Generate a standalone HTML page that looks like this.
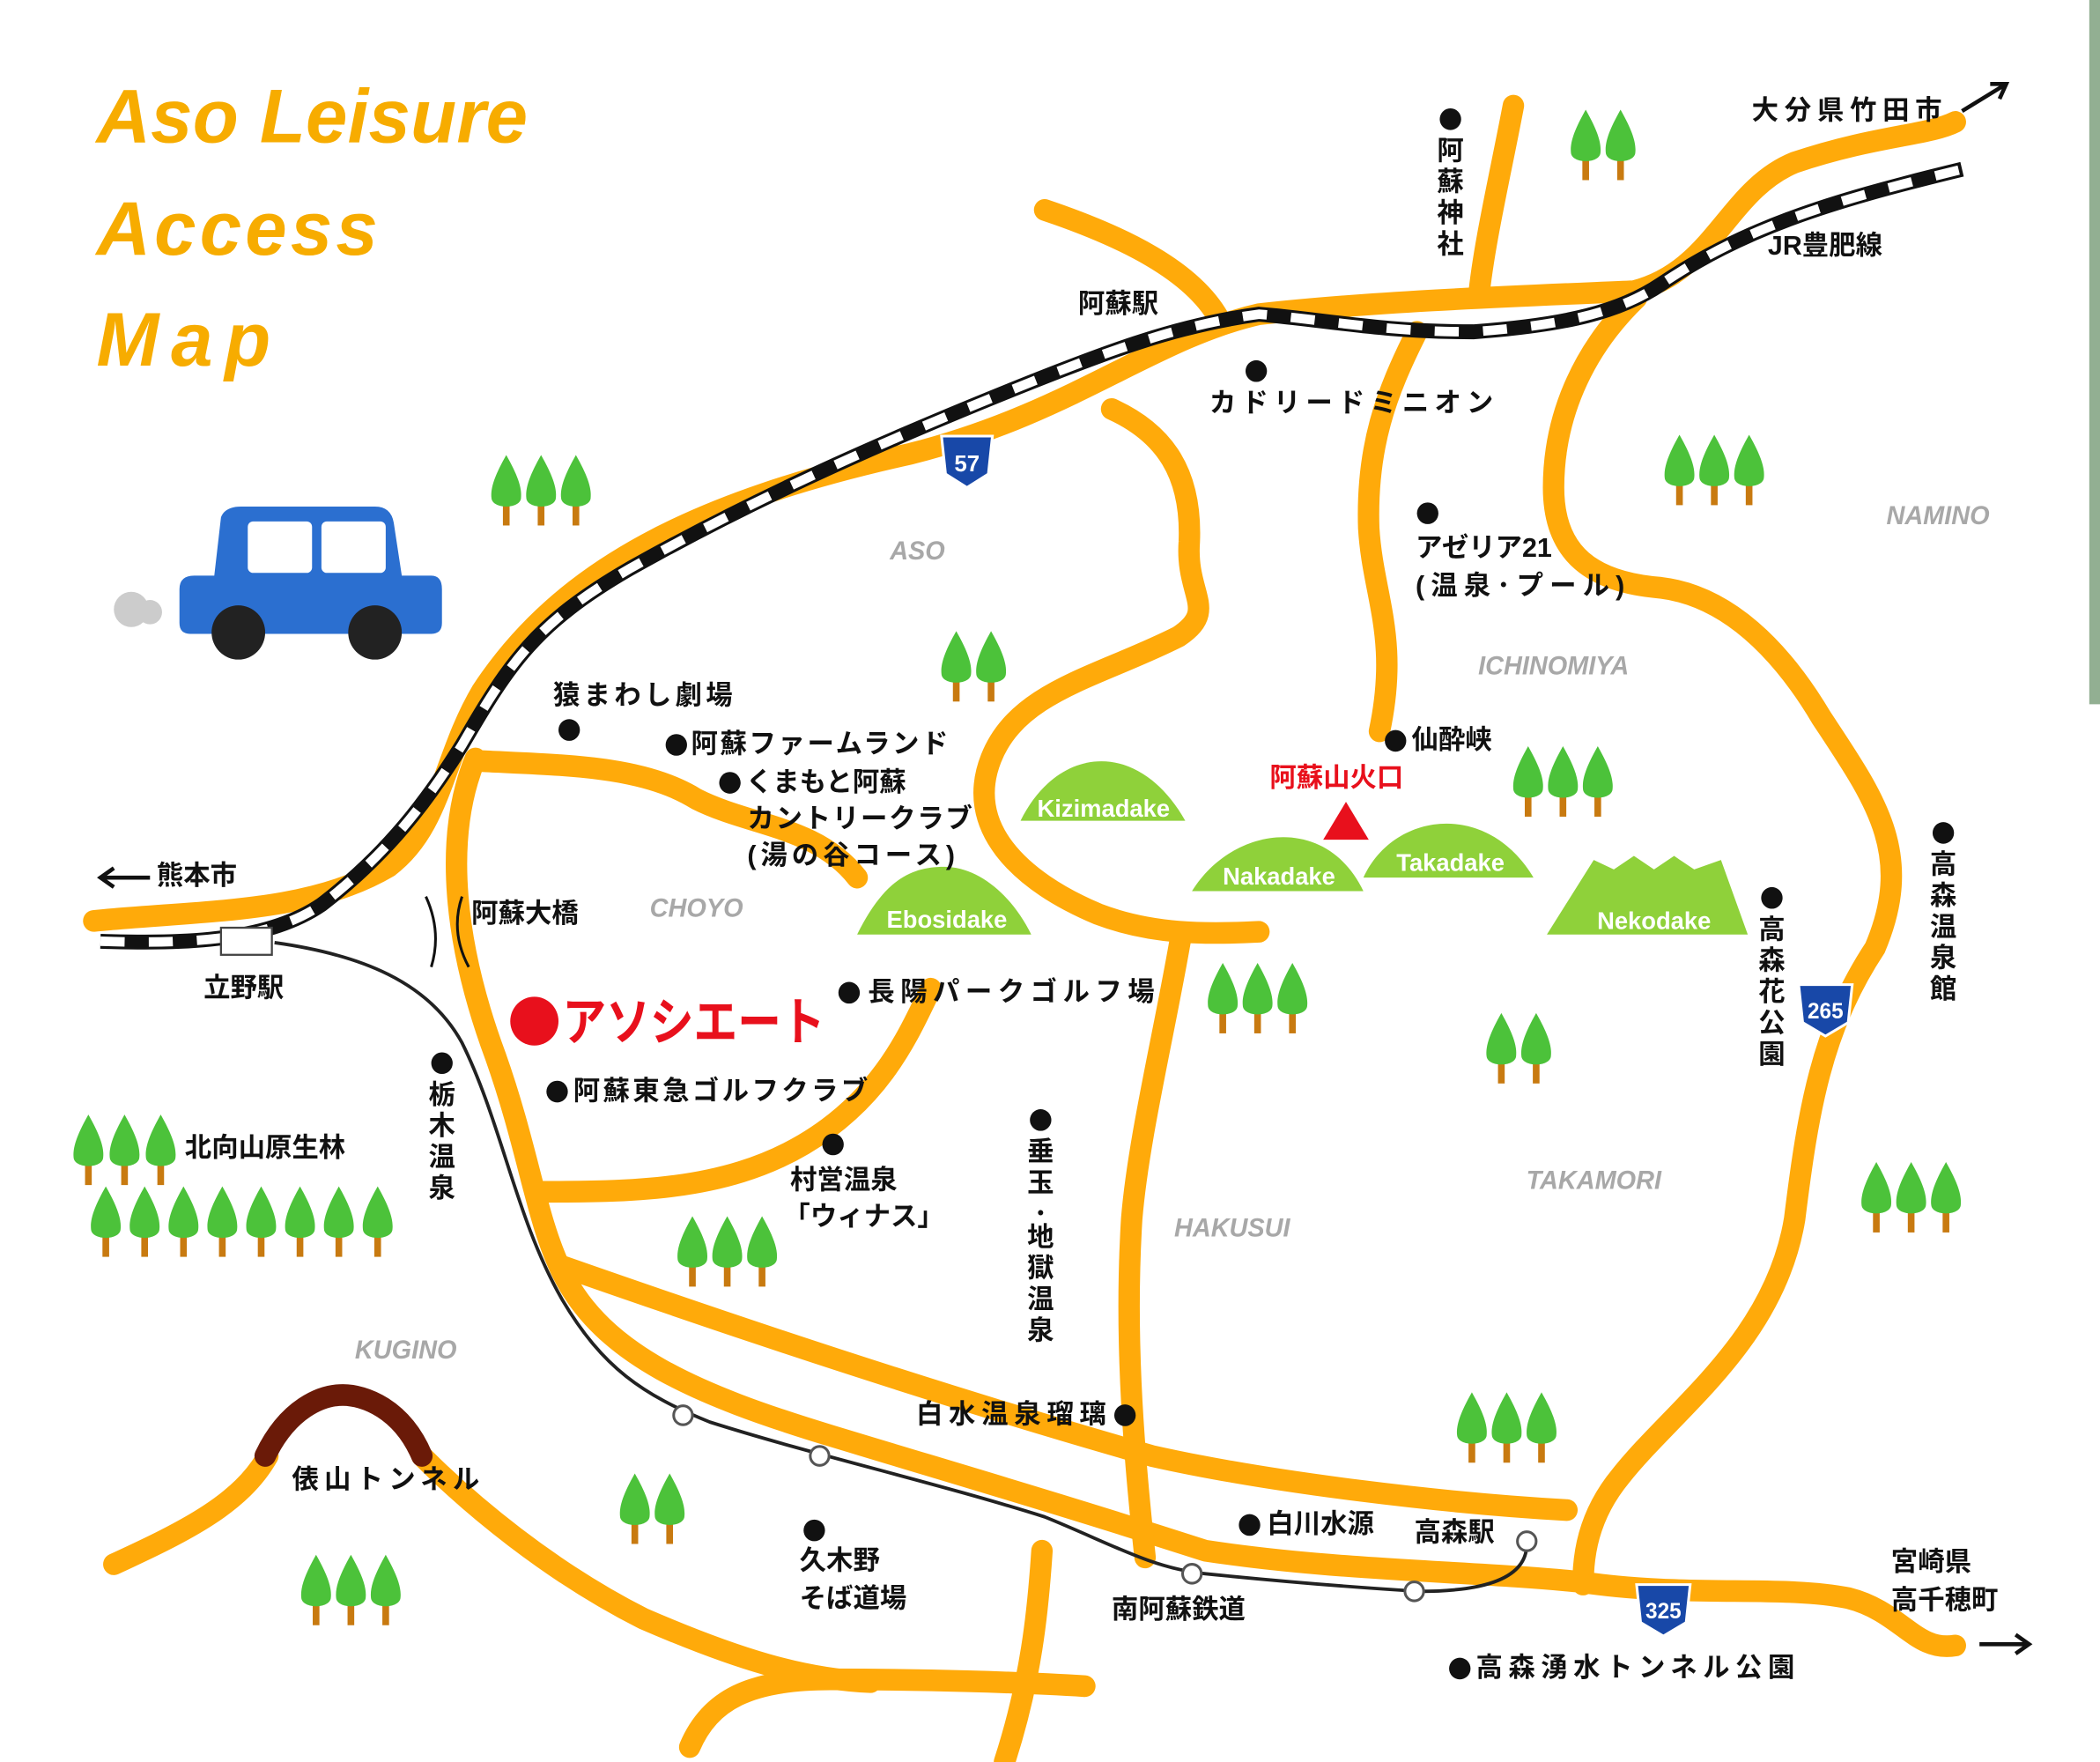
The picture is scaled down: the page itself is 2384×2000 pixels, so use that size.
<!DOCTYPE html>
<html><head><meta charset="utf-8"><style>
html,body{margin:0;padding:0;background:#fff;}
svg{display:block}
text{font-family:"Liberation Sans","Noto Sans CJK JP",sans-serif;font-weight:bold;}
</style></head><body>
<svg width="2384" height="2000" viewBox="0 0 1568 1301" preserveAspectRatio="none" xmlns="http://www.w3.org/2000/svg">
<defs>
<g id="t"><rect x="-2.5" y="10" width="5" height="18" fill="#c87a10"/><path d="M0,-24 C8,-10 12,0 11,8 C10,16 -10,16 -11,8 C-12,0 -8,-10 0,-24Z" fill="#4cc23a"/></g>
</defs>
<rect width="1568" height="1301" fill="#fff"/>
<rect x="1560" y="0" width="8" height="520" fill="#4a7a4a" opacity="0.6"/>
<g fill="none" stroke="#FFAA0A" stroke-width="16" stroke-linecap="round" stroke-linejoin="round">
<path d="M70,680 C150,672 230,675 290,640 C330,610 330,560 360,510 C420,420 520,370 680,335 C800,305 860,250 940,232 C1030,222 1150,218 1220,215 C1280,200 1290,140 1340,120 C1400,100 1440,100 1460,90"/>
<path d="M355,560 C330,620 340,700 370,780 C395,850 400,900 420,940 C450,1000 520,1030 620,1060 C720,1090 790,1110 900,1145 C1000,1160 1100,1160 1180,1168 C1260,1180 1330,1170 1380,1180 C1420,1190 1430,1220 1460,1215"/>
<path d="M420,935 C550,980 700,1030 860,1075 C950,1095 1080,1110 1170,1115"/>
<path d="M400,880 C470,880 540,880 600,845 C660,810 680,760 695,730"/>
<path d="M780,155 C840,175 890,200 910,235"/>
<path d="M1130,78 C1120,130 1108,180 1104,220"/>
<path d="M1058,245 C1035,290 1020,330 1022,390 C1025,440 1045,470 1030,540"/>
<path d="M830,302 C870,320 890,350 888,400 C885,440 910,450 880,470 C820,500 760,510 740,560 C720,610 760,650 820,675 C860,690 900,690 940,688"/>
<path d="M360,562 C420,565 480,565 520,590 C560,610 610,610 640,648"/>
<path d="M882,690 C870,760 850,840 845,900 C840,980 845,1060 855,1150"/>
<path d="M1222,220 C1180,260 1160,310 1160,360 C1160,410 1190,430 1240,434 C1290,440 1330,480 1360,530 C1400,590 1430,630 1400,700 C1360,760 1350,820 1340,900 C1325,990 1250,1040 1210,1090 C1185,1120 1182,1150 1182,1170"/>
<path d="M778,1145 C775,1190 770,1240 750,1301"/>
<path d="M515,1290 C530,1255 560,1240 620,1240 C690,1240 760,1242 810,1245"/>
<path d="M85,1155 C140,1130 180,1110 200,1075 M315,1075 C350,1110 410,1160 480,1195 C550,1225 600,1240 650,1242"/>
</g>
<path d="M198,1075 C215,1040 240,1030 256,1030 C272,1030 300,1040 315,1075" fill="none" stroke="#6a1a08" stroke-width="16" stroke-linecap="round"/>
<path d="M75,695 C140,697 200,695 240,668 C290,630 320,590 345,550 C380,490 400,460 470,420 C560,370 650,330 750,290 C830,258 880,240 940,232 C990,236 1030,245 1100,245 C1170,240 1210,230 1240,210 C1300,170 1360,150 1465,125" fill="none" stroke="#111" stroke-width="11"/>
<path d="M75,695 C140,697 200,695 240,668 C290,630 320,590 345,550 C380,490 400,460 470,420 C560,370 650,330 750,290 C830,258 880,240 940,232 C990,236 1030,245 1100,245 C1170,240 1210,230 1240,210 C1300,170 1360,150 1465,125" fill="none" stroke="#fff" stroke-width="7" stroke-dasharray="18 18"/>
<rect x="165" y="685" width="38" height="20" fill="#fff" stroke="#444" stroke-width="1.5"/>
<path d="M205,696 C270,705 320,725 345,770 C375,830 385,900 420,960 C450,1010 480,1030 530,1050 C610,1075 700,1095 780,1120 C830,1140 860,1158 900,1162 C960,1168 1010,1172 1060,1175 C1110,1175 1140,1165 1140,1140" fill="none" stroke="#222" stroke-width="2.5"/>
<g fill="#fff" stroke="#555" stroke-width="2"><circle cx="510" cy="1045" r="7"/><circle cx="612" cy="1075" r="7"/><circle cx="890" cy="1162" r="7"/><circle cx="1056" cy="1175" r="7"/><circle cx="1140" cy="1138" r="7"/></g>
<g><path d="M703,322 L741,322 L738,350 L722,360 L706,350Z" fill="#1848a8" stroke="#fff" stroke-width="2"/><text x="722" y="348" font-size="17" fill="#fff" text-anchor="middle">57</text></g>
<g><path d="M1343,727 L1383,727 L1380,755 L1363,765 L1346,755Z" fill="#1848a8" stroke="#fff" stroke-width="2"/><text x="1363" y="752" font-size="16" fill="#fff" text-anchor="middle">265</text></g>
<g><path d="M1222,1170 L1262,1170 L1259,1198 L1242,1208 L1225,1198Z" fill="#1848a8" stroke="#fff" stroke-width="2"/><text x="1242" y="1195" font-size="16" fill="#fff" text-anchor="middle">325</text></g>
<g fill="#8fd13a">
<path d="M762,606 C790,550 850,545 885,606Z"/>
<path d="M640,690 C660,650 680,640 705,640 C730,640 755,660 770,690Z"/>
<path d="M890,658 C920,610 990,600 1018,658Z"/>
<path d="M1018,648 C1040,600 1110,590 1145,648Z"/>
<path d="M1155,690 L1190,635 L1205,642 L1220,632 L1235,642 L1250,632 L1265,642 L1285,635 L1305,690Z"/>
</g>
<g fill="#fff" font-size="18" text-anchor="middle">
<text x="824" y="603">Kizimadake</text><text x="707" y="685">Ebosidake</text><text x="955" y="653">Nakadake</text><text x="1083" y="643">Takadake</text><text x="1235" y="686">Nekodake</text>
</g>
<path d="M1005,592 L1022,620 L988,620Z" fill="#e8101c"/>
<g>
<use href="#t" x="378" y="360"/><use href="#t" x="404" y="360"/><use href="#t" x="430" y="360"/>
<use href="#t" x="1184" y="105"/><use href="#t" x="1210" y="105"/>
<use href="#t" x="1254" y="345"/><use href="#t" x="1280" y="345"/><use href="#t" x="1306" y="345"/>
<use href="#t" x="714" y="490"/><use href="#t" x="740" y="490"/>
<use href="#t" x="1141" y="575"/><use href="#t" x="1167" y="575"/><use href="#t" x="1193" y="575"/>
<use href="#t" x="913" y="735"/><use href="#t" x="939" y="735"/><use href="#t" x="965" y="735"/>
<use href="#t" x="1121" y="772"/><use href="#t" x="1147" y="772"/>
<use href="#t" x="1401" y="882"/><use href="#t" x="1427" y="882"/><use href="#t" x="1453" y="882"/>
<use href="#t" x="1099" y="1052"/><use href="#t" x="1125" y="1052"/><use href="#t" x="1151" y="1052"/>
<use href="#t" x="517" y="922"/><use href="#t" x="543" y="922"/><use href="#t" x="569" y="922"/>
<use href="#t" x="474" y="1112"/><use href="#t" x="500" y="1112"/>
<use href="#t" x="236" y="1172"/><use href="#t" x="262" y="1172"/><use href="#t" x="288" y="1172"/>
<use href="#t" x="66" y="847"/><use href="#t" x="93" y="847"/><use href="#t" x="120" y="847"/>
<use href="#t" x="79" y="900"/><use href="#t" x="108" y="900"/><use href="#t" x="137" y="900"/><use href="#t" x="166" y="900"/><use href="#t" x="195" y="900"/><use href="#t" x="224" y="900"/><use href="#t" x="253" y="900"/><use href="#t" x="282" y="900"/>
</g>
<g>
<circle cx="98" cy="450" r="13" fill="#ccc"/><circle cx="112" cy="452" r="9" fill="#ccc"/>
<path d="M165,382 Q168,374 180,374 L280,374 Q292,374 294,386 L300,425 L322,425 Q330,425 330,435 L330,460 Q330,468 322,468 L142,468 Q134,468 134,460 L134,435 Q134,425 145,425 L160,425Z" fill="#2b6fd0"/>
<rect x="185" y="385" width="48" height="38" rx="4" fill="#fff"/><rect x="240" y="385" width="48" height="38" rx="4" fill="#fff"/>
<circle cx="178" cy="467" r="20" fill="#222"/><circle cx="280" cy="467" r="20" fill="#222"/>
</g>
<g fill="#F7AC00" font-size="56" font-style="italic">
<text x="72" y="105" textLength="322">Aso Leisure</text><text x="72" y="188" textLength="210">Access</text><text x="72" y="270" textLength="130">Map</text>
</g>
<g fill="#a8a8a8" font-size="19" font-style="italic" text-anchor="middle">
<text x="685" y="413">ASO</text><text x="1447" y="387">NAMINO</text><text x="1160" y="498">ICHINOMIYA</text><text x="520" y="677">CHOYO</text><text x="1190" y="878">TAKAMORI</text><text x="920" y="913">HAKUSUI</text><text x="303" y="1003">KUGINO</text>
</g>
<g fill="#111">
<circle cx="1083" cy="88" r="8"/><circle cx="938" cy="274" r="8"/><circle cx="1066" cy="379" r="8"/><circle cx="425" cy="539" r="8"/><circle cx="1451" cy="615" r="8"/><circle cx="1323" cy="663" r="8"/><circle cx="634" cy="733" r="8"/><circle cx="330" cy="785" r="8"/><circle cx="622" cy="845" r="8"/><circle cx="777" cy="827" r="8"/><circle cx="608" cy="1130" r="8"/><circle cx="840" cy="1045" r="8"/>
<circle cx="505" cy="550" r="8"/><circle cx="545" cy="578" r="8"/><circle cx="1042" cy="547" r="8"/><circle cx="416" cy="806" r="8"/><circle cx="933" cy="1126" r="8"/><circle cx="1090" cy="1232" r="8"/>
</g>
<circle cx="399" cy="754" r="18" fill="#e8101c"/>
<text x="420" y="768" font-size="38" fill="#e8101c" textLength="196" lengthAdjust="spacingAndGlyphs">アソシエート</text>
<g fill="#111" font-size="20">
<text x="1308" y="88" textLength="142">大分県竹田市</text>
<text x="1320" y="188">JR豊肥線</text>
<text x="805" y="231">阿蘇駅</text>
<text x="903" y="304" textLength="212">カドリードミニオン</text>
<text x="1057" y="411">アゼリア21</text><text x="1057" y="439" textLength="156">(温泉･プール)</text>
<text x="413" y="520" textLength="134">猿まわし劇場</text>
<text x="516" y="556" textLength="192">阿蘇ファームランド</text>
<text x="557" y="584">くまもと阿蘇</text>
<text x="558" y="611" textLength="168">カントリークラブ</text>
<text x="558" y="638" textLength="155">(湯の谷コース)</text>
<text x="1054" y="553">仙酔峡</text>
<text x="117" y="653">熊本市</text>
<text x="352" y="681">阿蘇大橋</text>
<text x="152" y="736">立野駅</text>
<text x="648" y="739" textLength="214">長陽パークゴルフ場</text>
<text x="428" y="812" textLength="220">阿蘇東急ゴルフクラブ</text>
<text x="138" y="854">北向山原生林</text>
<text x="590" y="878">村営温泉</text><text x="585" y="905">「ウィナス」</text>
<text x="684" y="1051" textLength="142">白水温泉瑠璃</text>
<text x="218" y="1099" textLength="140">俵山トンネル</text>
<text x="946" y="1132">白川水源</text>
<text x="1056" y="1138">高森駅</text>
<text x="597" y="1159">久木野</text><text x="597" y="1187">そば道場</text>
<text x="830" y="1195">南阿蘇鉄道</text>
<text x="1412" y="1160">宮崎県</text><text x="1412" y="1188">高千穂町</text>
<text x="1102" y="1238" textLength="238">高森湧水トンネル公園</text>
</g>
<text x="948" y="581" font-size="20" fill="#e8101c">阿蘇山火口</text>
<g fill="#111" font-size="20" text-anchor="middle">
<text x="1083" y="118">阿</text><text x="1083" y="141">蘇</text><text x="1083" y="164">神</text><text x="1083" y="187">社</text>
<text x="1451" y="645">高</text><text x="1451" y="668">森</text><text x="1451" y="691">温</text><text x="1451" y="714">泉</text><text x="1451" y="737">館</text>
<text x="1323" y="693">高</text><text x="1323" y="716">森</text><text x="1323" y="739">花</text><text x="1323" y="762">公</text><text x="1323" y="785">園</text>
<text x="330" y="815">栃</text><text x="330" y="838">木</text><text x="330" y="861">温</text><text x="330" y="884">泉</text>
<text x="777" y="857">垂</text><text x="777" y="880">玉</text><text x="777" y="903">･</text><text x="777" y="920">地</text><text x="777" y="943">獄</text><text x="777" y="966">温</text><text x="777" y="989">泉</text>
</g>
<g stroke="#111" stroke-width="3" fill="none">
<path d="M112,648 L75,648 M85,641 L75,648 L85,655"/>
<path d="M1465,82 L1498,62 M1486,62 L1498,62 L1493,73"/>
<path d="M1478,1214 L1515,1214 M1505,1207 L1515,1214 L1505,1221"/>
<path d="M318,662 Q330,688 322,714 M345,662 Q336,688 350,714" stroke-width="2"/>
</g>
</svg>
</body></html>
